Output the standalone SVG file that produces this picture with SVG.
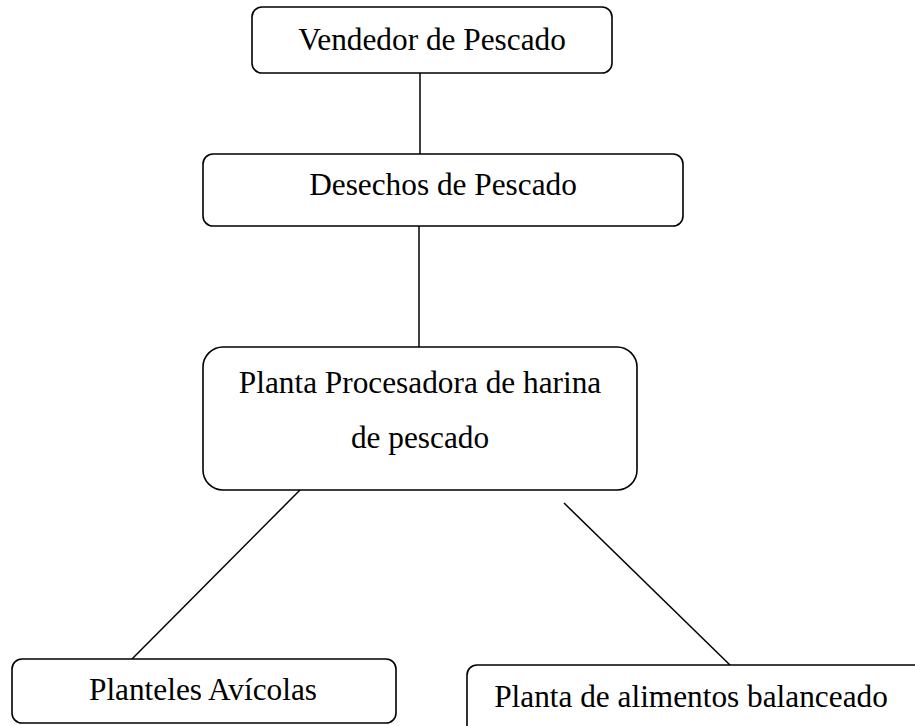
<svg xmlns="http://www.w3.org/2000/svg" width="915" height="726" viewBox="0 0 915 726">
<style>
.box{fill:#fff;stroke:#000;stroke-width:1.6}
.lbl{font-family:"Liberation Serif","Times New Roman",serif;font-size:31.3px;fill:#000;text-anchor:middle}
.con{stroke:#000;stroke-width:1.5;fill:none}
</style>
<rect width="915" height="726" fill="#fff"/>
<g id="connectors">
<line class="con" x1="420" y1="73" x2="420" y2="154"/>
<line class="con" x1="419" y1="226" x2="419" y2="347"/>
<line class="con" x1="300" y1="490" x2="132" y2="659"/>
<line class="con" x1="564" y1="503" x2="731" y2="666"/>
</g>
<g id="vendedor">
<rect class="box" x="252" y="7" width="360" height="66" rx="10"/>
<text class="lbl" x="432" y="50">Vendedor de Pescado</text>
</g>
<g id="desechos">
<rect class="box" x="203" y="154" width="480" height="72" rx="10"/>
<text class="lbl" x="443" y="195">Desechos de Pescado</text>
</g>
<g id="planta">
<rect class="box" x="203" y="347" width="434" height="143" rx="20"/>
<text class="lbl" x="420" y="393">Planta Procesadora de harina</text>
<text class="lbl" x="420" y="448">de pescado</text>
</g>
<g id="planteles">
<rect class="box" x="12" y="659" width="384" height="64" rx="10"/>
<text class="lbl" x="203" y="700">Planteles Avícolas</text>
</g>
<g id="balanceado">
<rect class="box" x="467" y="665" width="480" height="80" rx="10"/>
<text class="lbl" x="691" y="707">Planta de alimentos balanceado</text>
</g>
</svg>
